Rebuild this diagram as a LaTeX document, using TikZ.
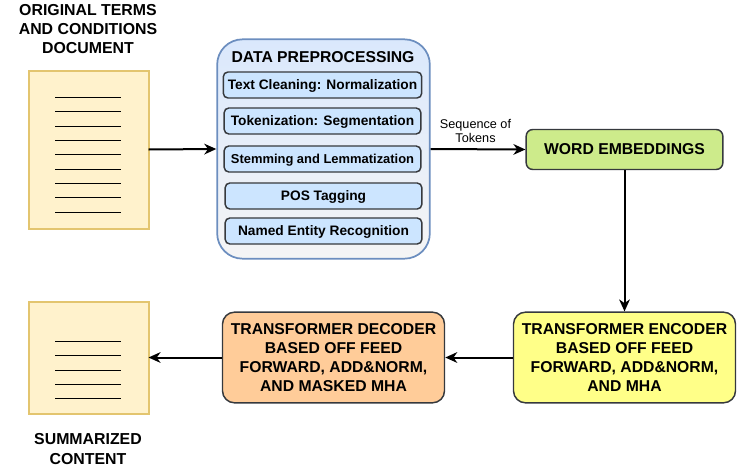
\documentclass[tikz,border=0pt]{standalone}
\usepackage{fontspec}
\setmainfont{Liberation Sans}
\usetikzlibrary{arrows.meta}
\definecolor{docfill}{HTML}{FFF2CC}
\definecolor{docline}{HTML}{E3C56F}
\definecolor{prepline}{HTML}{6C8EBF}
\definecolor{prepfill}{HTML}{DAE8FC}
\definecolor{stepfill}{HTML}{CCE5FF}
\definecolor{boxline}{HTML}{36393D}
\definecolor{embedfill}{HTML}{CDEB8B}
\definecolor{encfill}{HTML}{FFFF88}
\definecolor{decfill}{HTML}{FFCC99}
\tikzset{
  docbox/.style={draw=docline,fill=docfill,line width=1.5pt,minimum width=90pt,outer sep=0pt},
  stepbox/.style={draw=boxline,fill=stepfill,line width=1.1pt,rounded corners=3.5pt,minimum width=147.5pt,minimum height=19.5pt,text depth=0pt,font=\fontsize{10.3}{12}\selectfont\bfseries},
  mainbox/.style={draw=boxline,line width=1.1pt,rounded corners=9pt,minimum width=166.5pt,minimum height=68pt,align=center,font=\fontsize{11.8}{14.4}\selectfont\bfseries},
  titletext/.style={align=center,font=\fontsize{11.9}{14.4}\selectfont\bfseries},
  flow/.style={-{Stealth[length=9pt,width=8pt,inset=2.8pt]},line width=1.5pt,black},
}
\begin{document}
\begin{tikzpicture}[x=0.75pt,y=-0.75pt]
  \useasboundingbox (0,0) rectangle (737,468);

  % Documents
  \node[docbox,minimum height=118.5pt] (docA) at (88.5,149.5) {};
  \node[docbox,minimum height=84pt] (docB) at (88.5,357.5) {};
  \foreach \y in {97,111,126,140,154,169,183,197,212}
    \draw[line width=0.5pt] (55,\y) -- (121,\y);
  \foreach \y in {341,355,370,384,398}
    \draw[line width=0.5pt] (55,\y) -- (121,\y);

  % Captions
  \node[titletext] (titleA) at (88,29) {ORIGINAL TERMS\\AND CONDITIONS\\DOCUMENT};
  \node[titletext] (titleB) at (88,449) {SUMMARIZED\\CONTENT};

  % Preprocessing block
  \node[draw=prepline,top color=prepfill,bottom color=black!4,line width=1.3pt,rounded corners=19pt,
    minimum width=159.5pt,minimum height=164.5pt] (prep) at (323.5,149) {};
  \node[font=\fontsize{11.8}{12}\selectfont\bfseries] (prepTitle) at (323,57) {DATA PREPROCESSING};
  \node[stepbox] (clean) at (322.5,85) {Text Cleaning: Normalization};
  \node[stepbox] (token) at (322.5,121) {Tokenization: Segmentation};
  \node[stepbox,font=\fontsize{9.7}{12}\selectfont\bfseries] (stem) at (322.5,159) {Stemming and Lemmatization};
  \node[stepbox] (pos) at (323.5,196) {POS Tagging};
  \node[stepbox] (ner) at (323.5,231) {Named Entity Recognition};

  % Main blocks
  \node[mainbox,fill=embedfill,minimum width=147.5pt,minimum height=30pt,rounded corners=5pt] (embed) at (624.5,149.5) {WORD EMBEDDINGS};
  \node[mainbox,fill=encfill] (encoder) at (624.5,357.5)
    {TRANSFORMER ENCODER\\BASED OFF FEED\\FORWARD, ADD\&NORM,\\AND MHA};
  \node[mainbox,fill=decfill] (decoder) at (333.5,357.5)
    {TRANSFORMER DECODER\\BASED OFF FEED\\FORWARD, ADD\&NORM,\\AND MASKED MHA};

  % Connectors
  \draw[flow] (docA.east) -- (prep.west);
  \draw[flow] (prep.east) -- (embed.west);
  \draw[flow] (embed.south) -- (encoder.north);
  \draw[flow] (encoder.west) -- (decoder.east);
  \draw[flow] (decoder.west) -- (docB.east);
  \node[align=center,font=\fontsize{9.5}{11}\selectfont] (tokens) at (475.5,131) {Sequence of\\Tokens};
\end{tikzpicture}
\end{document}
